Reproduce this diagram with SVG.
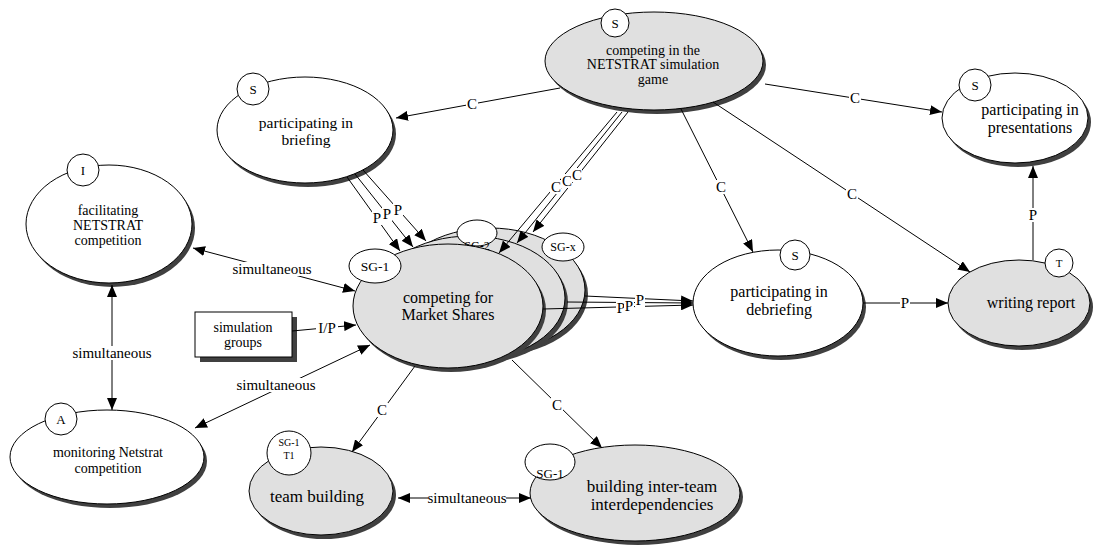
<svg xmlns="http://www.w3.org/2000/svg" width="1117" height="548" viewBox="0 0 1117 548">
<defs>
<style>
.sh{fill:#404040;stroke:none}
.w{fill:#fff;stroke:#000;stroke-width:1}
.g{fill:#e0e0e0;stroke:#000;stroke-width:1}
.t{font-family:"Liberation Serif","Times New Roman",serif;fill:#000;text-anchor:middle}
.c{stroke:#000;stroke-width:1;fill:none}
.a{marker-end:url(#ah)}
.d{marker-start:url(#ah);marker-end:url(#ah)}
.bg{fill:#fff;stroke:none}
.l{font-family:"Liberation Serif","Times New Roman",serif;font-size:15px;fill:#000;text-anchor:middle}
</style>
<marker id="ah" viewBox="0 0 12 10" refX="12" refY="5" markerWidth="12" markerHeight="10" markerUnits="userSpaceOnUse" orient="auto-start-reverse">
<path d="M0,0 L12,5 L0,10 z" fill="#000"/>
</marker>
</defs>
<rect width="1117" height="548" fill="#fff"/>

<g id="node-game">
<ellipse class="sh" cx="657" cy="65" rx="109" ry="49"/>
<ellipse class="g" cx="654" cy="61" rx="109" ry="49"/>
<circle class="w" cx="615" cy="23" r="14"/>
<text class="t" x="615" y="28" font-size="13">S</text>
<text class="t" x="653" y="55" font-size="14">competing in the</text>
<text class="t" x="653" y="69" font-size="14">NETSTRAT simulation</text>
<text class="t" x="653" y="84" font-size="14">game</text>
</g>

<g id="node-briefing">
<ellipse class="sh" cx="308" cy="134" rx="88" ry="53"/>
<ellipse class="w" cx="305" cy="130" rx="88" ry="53"/>
<circle class="w" cx="253" cy="89" r="16"/>
<text class="t" x="253" y="94" font-size="13">S</text>
<text class="t" x="306" y="128" font-size="15.5">participating in</text>
<text class="t" x="306" y="145" font-size="15.5">briefing</text>
</g>

<g id="node-facilitating">
<ellipse class="sh" cx="112" cy="228" rx="83" ry="59"/>
<ellipse class="w" cx="109" cy="224" rx="83" ry="59"/>
<circle class="w" cx="83" cy="170" r="16"/>
<text class="t" x="83" y="175" font-size="13">I</text>
<text class="t" x="108" y="215" font-size="14">facilitating</text>
<text class="t" x="108" y="230" font-size="14">NETSTRAT</text>
<text class="t" x="108" y="245" font-size="14">competition</text>
</g>

<g id="node-monitoring">
<ellipse class="sh" cx="110" cy="461" rx="97" ry="47"/>
<ellipse class="w" cx="107" cy="457" rx="97" ry="47"/>
<circle class="w" cx="61" cy="419" r="16"/>
<text class="t" x="61" y="424" font-size="13">A</text>
<text class="t" x="108" y="457" font-size="14">monitoring Netstrat</text>
<text class="t" x="108" y="473" font-size="14">competition</text>
</g>

<g id="node-simgroups">
<rect class="sh" x="200" y="317" width="97" height="45"/>
<rect class="w" x="195" y="312" width="97" height="45"/>
<text class="t" x="243" y="332" font-size="14">simulation</text>
<text class="t" x="243" y="347" font-size="14">groups</text>
</g>

<g id="node-market">
<ellipse class="sh" cx="493" cy="294" rx="95" ry="62"/>
<ellipse class="g" cx="490" cy="290" rx="95" ry="62"/>
<ellipse class="w" cx="563" cy="247" rx="21" ry="14"/>
<text class="t" x="563" y="251" font-size="12">SG-x</text>
<ellipse class="sh" cx="473" cy="302" rx="95" ry="62"/>
<ellipse class="g" cx="470" cy="298" rx="95" ry="62"/>
<ellipse class="w" cx="477" cy="233" rx="20" ry="13"/>
<text class="t" x="477" y="250" font-size="12">SG-2</text>
<ellipse class="sh" cx="451" cy="310" rx="95" ry="62"/>
<ellipse class="g" cx="448" cy="306" rx="95" ry="62"/>
<ellipse class="w" cx="375" cy="266" rx="26" ry="17"/>
<text class="t" x="375" y="271" font-size="13.5">SG-1</text>
<text class="t" x="448" y="303" font-size="16">competing for</text>
<text class="t" x="448" y="320" font-size="16">Market Shares</text>
</g>

<g id="node-debriefing">
<ellipse class="sh" cx="781" cy="307" rx="85" ry="53"/>
<ellipse class="w" cx="778" cy="303" rx="85" ry="53"/>
<circle class="w" cx="795" cy="255" r="15"/>
<text class="t" x="795" y="260" font-size="13">S</text>
<text class="t" x="779" y="297" font-size="16">participating in</text>
<text class="t" x="779" y="315" font-size="16">debriefing</text>
</g>

<g id="node-presentations">
<ellipse class="sh" cx="1018" cy="122" rx="73" ry="45"/>
<ellipse class="w" cx="1015" cy="118" rx="73" ry="45"/>
<circle class="w" cx="975" cy="85" r="16"/>
<text class="t" x="975" y="90" font-size="13">S</text>
<text class="t" x="1030" y="115" font-size="16">participating in</text>
<text class="t" x="1030" y="133" font-size="16">presentations</text>
</g>

<g id="node-report">
<ellipse class="sh" cx="1022" cy="307" rx="71" ry="43"/>
<ellipse class="g" cx="1019" cy="303" rx="71" ry="43"/>
<circle class="w" cx="1059" cy="263" r="14"/>
<text class="t" x="1059" y="267" font-size="11">T</text>
<text class="t" x="1031" y="308" font-size="16">writing report</text>
</g>

<g id="node-teambuilding">
<ellipse class="sh" cx="324" cy="495" rx="72" ry="44"/>
<ellipse class="g" cx="321" cy="491" rx="72" ry="44"/>
<circle class="w" cx="289" cy="453" r="22"/>
<text class="t" x="289" y="446" font-size="10">SG-1</text>
<text class="t" x="289" y="459" font-size="10">T1</text>
<text class="t" x="317" y="502" font-size="17">team building</text>
</g>

<g id="node-interteam">
<ellipse class="sh" cx="638" cy="497" rx="105" ry="48"/>
<ellipse class="g" cx="635" cy="493" rx="105" ry="48"/>
<ellipse class="w" cx="550" cy="462" rx="25" ry="18"/>
<text class="t" x="550" y="478" font-size="13">SG-1</text>
<text class="t" x="652" y="492" font-size="17">building inter-team</text>
<text class="t" x="652" y="510" font-size="17">interdependencies</text>
</g>

<g id="connectors">
<line class="c a" x1="560" y1="88" x2="396" y2="118"/>
<line class="c a" x1="765" y1="84" x2="942" y2="112"/>
<line class="c a" x1="681" y1="109" x2="753" y2="252"/>
<line class="c a" x1="713" y1="102" x2="970" y2="272"/>
<line class="c a" x1="617" y1="112" x2="499" y2="253"/>
<line class="c a" x1="622" y1="112" x2="517" y2="243"/>
<line class="c a" x1="628" y1="112" x2="533" y2="232"/>
<line class="c a" x1="347" y1="177" x2="400" y2="251"/>
<line class="c a" x1="355" y1="174" x2="413" y2="247"/>
<line class="c a" x1="363" y1="170" x2="426" y2="241"/>
<line class="c a" x1="543" y1="309" x2="693" y2="305"/>
<line class="c a" x1="567" y1="302" x2="693" y2="303"/>
<line class="c a" x1="585" y1="296" x2="693" y2="301"/>
<line class="c a" x1="863" y1="303" x2="948" y2="303"/>
<line class="c a" x1="1033" y1="260" x2="1033" y2="166"/>
<line class="c d" x1="193" y1="248" x2="355" y2="291"/>
<line class="c d" x1="112" y1="285" x2="112" y2="410"/>
<line class="c d" x1="195" y1="428" x2="370" y2="345"/>
<line class="c a" x1="292" y1="331" x2="356" y2="325"/>
<line class="c a" x1="415" y1="366" x2="352" y2="452"/>
<line class="c a" x1="512" y1="360" x2="602" y2="448"/>
<line class="c d" x1="398" y1="498" x2="531" y2="498"/>

<rect class="bg" x="466" y="97" width="12" height="14"/>
<text class="l" x="472" y="109">C</text>
<rect class="bg" x="849" y="91" width="12" height="14"/>
<text class="l" x="855" y="103">C</text>
<rect class="bg" x="715" y="180" width="12" height="14"/>
<text class="l" x="721" y="192">C</text>
<rect class="bg" x="846" y="187" width="12" height="14"/>
<text class="l" x="852" y="199">C</text>
<rect class="bg" x="550" y="180" width="11" height="14"/>
<text class="l" x="556" y="192">C</text>
<rect class="bg" x="561" y="174" width="11" height="14"/>
<text class="l" x="567" y="186">C</text>
<rect class="bg" x="571" y="168" width="11" height="14"/>
<text class="l" x="577" y="180">C</text>
<rect class="bg" x="372" y="211" width="10" height="14"/>
<text class="l" x="377" y="223">P</text>
<rect class="bg" x="382" y="207" width="10" height="14"/>
<text class="l" x="387" y="219">P</text>
<rect class="bg" x="393" y="203" width="10" height="14"/>
<text class="l" x="398" y="215">P</text>
<rect class="bg" x="616" y="301" width="10" height="14"/>
<text class="l" x="621" y="313">P</text>
<rect class="bg" x="624" y="299" width="10" height="14"/>
<text class="l" x="629" y="311">P</text>
<rect class="bg" x="635" y="293" width="10" height="14"/>
<text class="l" x="640" y="305">P</text>
<rect class="bg" x="900" y="296" width="10" height="14"/>
<text class="l" x="905" y="308">P</text>
<rect class="bg" x="1028" y="208" width="10" height="14"/>
<text class="l" x="1033" y="220">P</text>
<rect class="bg" x="233" y="262" width="78" height="14"/>
<text class="l" x="272" y="274">simultaneous</text>
<rect class="bg" x="73" y="346" width="78" height="14"/>
<text class="l" x="112" y="358">simultaneous</text>
<rect class="bg" x="237" y="378" width="78" height="14"/>
<text class="l" x="276" y="390">simultaneous</text>
<rect class="bg" x="316" y="321" width="22" height="14"/>
<text class="l" x="327" y="333">I/P</text>
<rect class="bg" x="376" y="403" width="12" height="14"/>
<text class="l" x="382" y="415">C</text>
<rect class="bg" x="551" y="398" width="12" height="14"/>
<text class="l" x="557" y="410">C</text>
<rect class="bg" x="428" y="491" width="78" height="14"/>
<text class="l" x="467" y="503">simultaneous</text>
</g>
</svg>
